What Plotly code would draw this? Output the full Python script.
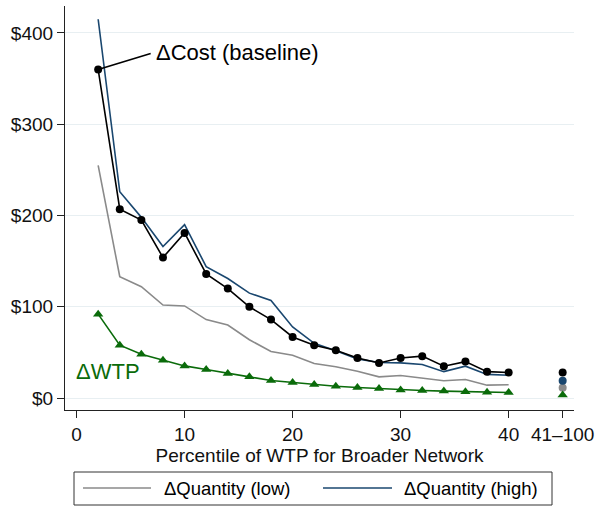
import plotly.graph_objects as go

pct = [2, 4, 6, 8, 10, 12, 14, 16, 18, 20, 22, 24, 26, 28, 30, 32, 34, 36, 38, 40]
cost_base = [360, 207, 195, 154, 181, 136, 120, 100, 86, 67, 58, 52.5, 44, 38.5, 44, 46, 35, 40, 29, 28]
qty_high = [415, 226, 198, 166, 190, 144, 131, 115, 107, 78, 60, 52, 43, 39, 38.6, 36.8, 29, 35, 26, 25]
qty_low = [255, 133, 122, 102, 101, 86, 80, 64, 51, 47, 38, 34.3, 29.5, 23.3, 24.8, 22.2, 19, 20.4, 14.2, 14.6]
wtp = [92, 58, 48, 41.5, 35.3, 31.3, 27, 23.3, 19.3, 17.2, 15, 13, 11.7, 10.6, 9, 8.4, 7.7, 7, 6.5, 6.2]

rest_x = 45
rest_cost = 28
rest_high = 19
rest_low = 11.5
rest_wtp = 3.3

x_ticks = [0, 10, 20, 30, 40, 45]
x_ticklabels = ["0", "10", "20", "30", "40", "41\u2013100"]
y_ticks = [0, 100, 200, 300, 400]
y_ticklabels = ["$0", "$100", "$200", "$300", "$400"]

C_BLACK = "#000000"
C_BLUE = "#1a476f"
C_GRAY = "#8a8a8a"
C_GREEN = "#0a6b0a"
FONT = "Liberation Sans, Arial, sans-serif"

fig = go.Figure()
fig.add_trace(go.Scatter(x=pct, y=qty_low, mode="lines", line=dict(color=C_GRAY, width=1.6), showlegend=False))
fig.add_trace(go.Scatter(x=pct, y=qty_high, mode="lines", line=dict(color=C_BLUE, width=1.6), showlegend=False))
fig.add_trace(go.Scatter(x=pct, y=cost_base, mode="lines+markers", line=dict(color=C_BLACK, width=1.6),
                         marker=dict(symbol="circle", size=8, color=C_BLACK), showlegend=False))
fig.add_trace(go.Scatter(x=pct, y=wtp, mode="lines+markers", line=dict(color=C_GREEN, width=1.6),
                         marker=dict(symbol="triangle-up", size=9, color=C_GREEN), showlegend=False))
fig.add_trace(go.Scatter(x=[rest_x], y=[rest_low], mode="markers", marker=dict(size=8, color=C_GRAY), showlegend=False))
fig.add_trace(go.Scatter(x=[rest_x], y=[rest_high], mode="markers", marker=dict(size=8, color=C_BLUE), showlegend=False))
fig.add_trace(go.Scatter(x=[rest_x], y=[rest_cost], mode="markers", marker=dict(size=8, color=C_BLACK), showlegend=False))
fig.add_trace(go.Scatter(x=[rest_x], y=[rest_wtp], mode="markers", marker=dict(symbol="triangle-up", size=9, color=C_GREEN), showlegend=False))

# Annotations
fig.add_annotation(x=pct[0], y=cost_base[0], ax=7.0, ay=378, axref="x", ayref="y",
                   text="", showarrow=True, arrowhead=0, arrowwidth=1.6, arrowcolor=C_BLACK, standoff=0)
fig.add_annotation(x=7.2, y=379, text="\u0394Cost (baseline)", showarrow=False, xanchor="left",
                   yanchor="middle", font=dict(size=22, color=C_BLACK, family=FONT))
fig.add_annotation(x=-0.2, y=29, text="\u0394WTP", showarrow=False, xanchor="left",
                   yanchor="middle", font=dict(size=22, color=C_GREEN, family=FONT))

# Manual legend
fig.add_shape(type="rect", xref="paper", yref="paper", x0=(74-65)/509, x1=(552-65)/509,
              y0=(410-505)/404, y1=(410-472)/404, line=dict(color="#333333", width=1), fillcolor="white")
fig.add_shape(type="line", xref="paper", yref="paper", x0=(83-65)/509, x1=(151-65)/509,
              y0=(410-488)/404, y1=(410-488)/404, line=dict(color=C_GRAY, width=1.6))
fig.add_shape(type="line", xref="paper", yref="paper", x0=(323-65)/509, x1=(392-65)/509,
              y0=(410-488)/404, y1=(410-488)/404, line=dict(color=C_BLUE, width=1.6))
fig.add_annotation(xref="paper", yref="paper", x=(162-65)/509, y=(410-488)/404, text="\u0394Quantity (low)",
                   showarrow=False, xanchor="left", yanchor="middle", font=dict(size=18.5, color=C_BLACK, family=FONT))
fig.add_annotation(xref="paper", yref="paper", x=(402-65)/509, y=(410-488)/404, text="\u0394Quantity (high)",
                   showarrow=False, xanchor="left", yanchor="middle", font=dict(size=18.5, color=C_BLACK, family=FONT))

fig.update_layout(
    width=596, height=508,
    margin=dict(l=65, r=22, t=6, b=98),
    plot_bgcolor="white", paper_bgcolor="white",
    font=dict(family=FONT, size=19, color="#111111"),
)
fig.update_xaxes(range=[-1.07, 46.05], tickvals=x_ticks, ticktext=x_ticklabels, showgrid=False,
                 showline=True, linecolor="#222222", linewidth=1.2, ticks="outside", ticklen=7,
                 tickcolor="#222222", zeroline=False, tickfont=dict(size=19), automargin=False,
                 title=dict(text="Percentile of WTP for Broader Network", font=dict(size=19), standoff=0))
fig.update_yaxes(range=[-13, 429.5], tickvals=y_ticks, ticktext=y_ticklabels, showgrid=True,
                 gridcolor="#e8eff2", gridwidth=1.2, showline=True, linecolor="#222222", linewidth=1.2,
                 ticks="outside", ticklen=7, tickcolor="#222222", zeroline=False, tickfont=dict(size=19),
                 automargin=False)

fig.write_html("out.html")
